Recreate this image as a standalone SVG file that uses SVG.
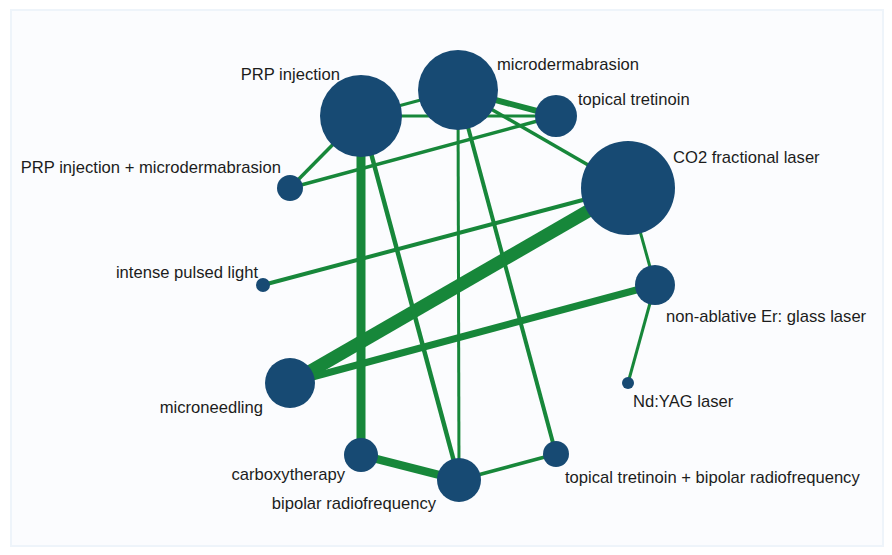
<svg xmlns="http://www.w3.org/2000/svg" width="892" height="555" viewBox="0 0 892 555">
<style>
.e{stroke:#17873a;stroke-linecap:butt;fill:none}
.n{fill:#174a73}
.t{font-family:"Liberation Sans",Arial,sans-serif;font-size:16.6px;fill:#1c1c1c}
.r{text-anchor:end}
</style>
<rect x="0" y="0" width="892" height="555" fill="#ffffff"/>
<rect x="11" y="10" width="872" height="536" fill="#fbfcfe" stroke="#eef4fa" stroke-width="2"/>
<g id="connectors">
<line class="e" x1="290" y1="383" x2="628" y2="188" stroke-width="13"/>
<line class="e" x1="361" y1="116" x2="361" y2="455" stroke-width="9"/>
<line class="e" x1="361" y1="455" x2="459" y2="480" stroke-width="8"/>
<line class="e" x1="290" y1="383" x2="655" y2="285" stroke-width="7"/>
<line class="e" x1="458" y1="90" x2="556" y2="116" stroke-width="6"/>
<line class="e" x1="361" y1="116" x2="459" y2="480" stroke-width="4.5"/>
<line class="e" x1="458" y1="90" x2="556" y2="454" stroke-width="4"/>
<line class="e" x1="263" y1="285" x2="628" y2="188" stroke-width="4"/>
<line class="e" x1="458" y1="90" x2="459" y2="480" stroke-width="3"/>
<line class="e" x1="361" y1="116" x2="458" y2="90" stroke-width="3"/>
<line class="e" x1="361" y1="116" x2="556" y2="116" stroke-width="3"/>
<line class="e" x1="290" y1="188" x2="556" y2="116" stroke-width="3.5"/>
<line class="e" x1="290" y1="188" x2="361" y2="116" stroke-width="3.5"/>
<line class="e" x1="458" y1="90" x2="628" y2="188" stroke-width="3.5"/>
<line class="e" x1="628" y1="188" x2="655" y2="285" stroke-width="3"/>
<line class="e" x1="655" y1="285" x2="628" y2="383" stroke-width="3"/>
<line class="e" x1="459" y1="480" x2="556" y2="454" stroke-width="3.5"/>
</g>
<g id="n-prp"><circle class="n" cx="361" cy="116" r="41"/><text class="t r" x="340" y="80">PRP injection</text></g>
<g id="n-microdermabrasion"><circle class="n" cx="458" cy="90" r="40"/><text class="t" x="497" y="70">microdermabrasion</text></g>
<g id="n-topical-tretinoin"><circle class="n" cx="556" cy="116" r="21"/><text class="t" x="578" y="105">topical tretinoin</text></g>
<g id="n-co2"><circle class="n" cx="628" cy="188" r="47"/><text class="t" x="673" y="163">CO2 fractional laser</text></g>
<g id="n-prp-md"><circle class="n" cx="290" cy="188" r="13"/><text class="t r" x="281" y="173">PRP injection + microdermabrasion</text></g>
<g id="n-ipl"><circle class="n" cx="263" cy="285" r="7"/><text class="t r" x="258" y="278">intense pulsed light</text></g>
<g id="n-erglass"><circle class="n" cx="655" cy="285" r="20"/><text class="t" x="666" y="322">non-ablative Er: glass laser</text></g>
<g id="n-ndyag"><circle class="n" cx="628" cy="383" r="6"/><text class="t" x="633" y="407">Nd:YAG laser</text></g>
<g id="n-microneedling"><circle class="n" cx="290" cy="383" r="25"/><text class="t r" x="263" y="413">microneedling</text></g>
<g id="n-carboxy"><circle class="n" cx="361" cy="455" r="17"/><text class="t r" x="345" y="480">carboxytherapy</text></g>
<g id="n-bipolar"><circle class="n" cx="459" cy="480" r="22"/><text class="t r" x="436" y="509">bipolar radiofrequency</text></g>
<g id="n-tt-bipolar"><circle class="n" cx="556" cy="454" r="13"/><text class="t" x="565" y="483">topical tretinoin + bipolar radiofrequency</text></g>
</svg>
